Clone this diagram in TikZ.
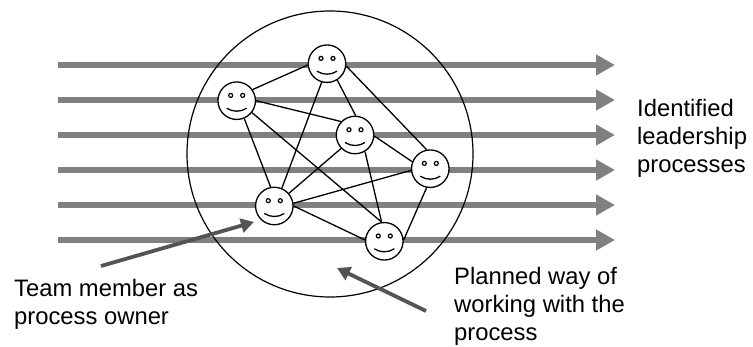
\documentclass[tikz,border=0pt]{standalone}
\usepackage{fontspec}
\setmainfont{Liberation Sans}
\usetikzlibrary{arrows.meta}
\tikzset{
    facenode/.style={circle,draw=black,fill=white,line width=1.3pt,inner sep=0pt,minimum size=37.5pt,
        path picture={
            \draw[line width=1.2pt] (path picture bounding box.center) ++(-6pt,5.3pt) circle (2pt);
            \draw[line width=1.2pt] (path picture bounding box.center) ++(6pt,5.3pt) circle (2pt);
            \draw[line width=1.3pt] (path picture bounding box.center) ++(-10pt,-7.5pt) .. controls +(6pt,-4pt) and +(-6pt,-4pt) .. ++(20pt,0pt);
        }},
    linkline/.style={line width=1.3pt,black},
    processarrow/.style={line width=6.5pt,black!50,-{Triangle[length=19pt,width=20pt]}},
    pointerarrow/.style={line width=3.8pt,black!67,-{Triangle[length=13pt,width=14pt]}},
    labelnode/.style={align=left,inner sep=0pt,font=\fontsize{23.8}{28.3}\selectfont}
}
\begin{document}
\begin{tikzpicture}[x=1pt,y=-1pt]
    \useasboundingbox (0,0) rectangle (753,347);
    % process arrows
    \foreach \rowy [count=\rownum] in {65,100,135,170,205,240} {
        \coordinate (start\rownum) at (58,\rowy);
        \coordinate (end\rownum) at (615,\rowy);
        \draw[processarrow] (start\rownum) -- (end\rownum);
    }
    \node[circle,draw=black,line width=1.2pt,inner sep=0pt,minimum size=286pt] (way) at (330,154) {};
    % team members
    \node[facenode] (top) at (327,63.7) {};
    \node[facenode] (left) at (236.7,100.7) {};
    \node[facenode] (mid) at (355,135) {};
    \node[facenode] (right) at (430.3,168.7) {};
    \node[facenode] (owner) at (274.3,206) {};
    \node[facenode] (bottom) at (384.3,241.3) {};
    % links
    \draw[linkline] (top.184) -- (left.35);
    \draw[linkline] (top.-58) -- (mid.88);
    \draw[linkline] (top.-7) -- (right.101);
    \draw[linkline] (top.254) -- (owner.67);
    \draw[linkline] (left.0) -- (mid.136);
    \draw[linkline] (left.-67) -- (owner.101);
    \draw[linkline] (left.-38) -- (bottom.98);
    \draw[linkline] (mid.-3) -- (right.159);
    \draw[linkline] (mid.224) -- (owner.41);
    \draw[linkline] (mid.-59) -- (bottom.98);
    \draw[linkline] (right.185) -- (owner.8);
    \draw[linkline] (right.-101) -- (bottom.4);
    \draw[linkline] (owner.0) -- (bottom.176);
    % labels and pointers
    \node[labelnode,anchor=base west] (ownertext) at (14,325) {Team member as\\process owner};
    \node[labelnode,anchor=base west] (waytext) at (454,341) {Planned way of\\working with the\\process};
    \node[labelnode,anchor=base west] (processtext) at (637,173) {Identified\\leadership\\processes};
    \coordinate (ownerfrom) at (101,266);
    \coordinate (ownerto) at (254,222);
    \coordinate (wayfrom) at (426,311);
    \coordinate (wayto) at (337,268);
    \draw[pointerarrow] (ownerfrom) -- (ownerto);
    \draw[pointerarrow] (wayfrom) -- (wayto);
\end{tikzpicture}
\end{document}
